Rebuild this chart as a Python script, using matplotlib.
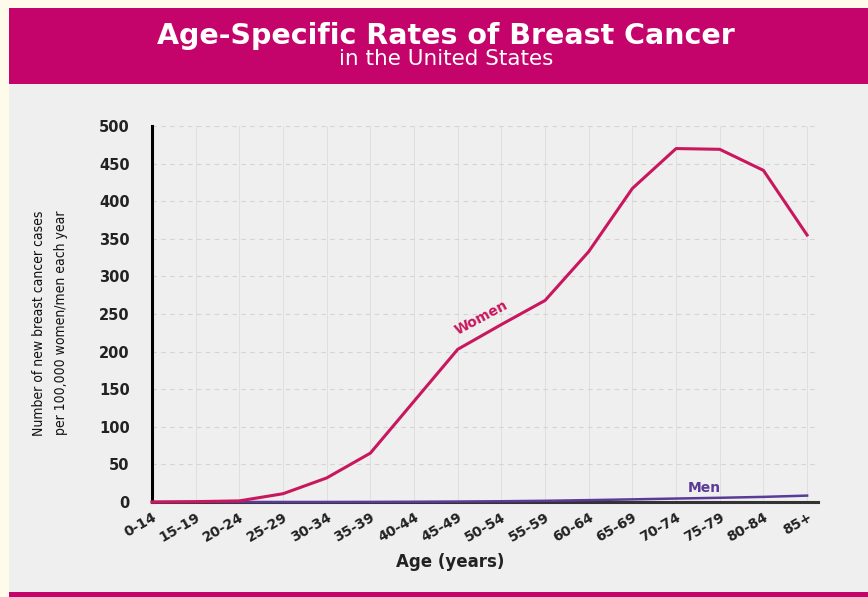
import matplotlib
matplotlib.use('Agg')
import matplotlib.pyplot as plt
from matplotlib.patches import Rectangle
from matplotlib.transforms import ScaledTranslation

# Age groups and incidence per 100,000
age_groups = ['0-14', '15-19', '20-24', '25-29', '30-34', '35-39', '40-44', '45-49',
              '50-54', '55-59', '60-64', '65-69', '70-74', '75-79', '80-84', '85+']
women_rates = [0, 0.5, 1.5, 11, 32, 65, 134, 203, 236, 268, 333, 417, 470, 469, 441, 355]
men_rates = [0, 0, 0, 0, 0, 0.1, 0.3, 0.6, 1.0, 1.6, 2.5, 3.5, 4.6, 5.6, 6.8, 8.5]
y_ticks = [0, 50, 100, 150, 200, 250, 300, 350, 400, 450, 500]

PINK = '#c5046b'
WOMEN = '#c8175d'
MEN = '#5b3b98'

W, H = 868, 597
fig = plt.figure(figsize=(W / 100, H / 100), dpi=100)
fig.patch.set_facecolor('#fffbea')

# header band, grey panel and bottom rule (pixel coordinates from top-left)
def px_rect(x0, y0, x1, y1, color):
    fig.patches.append(Rectangle((x0 / W, 1 - y1 / H), (x1 - x0) / W, (y1 - y0) / H,
                                 transform=fig.transFigure, facecolor=color,
                                 edgecolor='none', zorder=-5))

px_rect(9, 84, W, 593, '#efefef')
px_rect(9, 8, W, 84, PINK)
px_rect(9, 592, W, H, PINK)

fig.text(446 / W, 1 - 36 / H, 'Age-Specific Rates of Breast Cancer', color='white',
         fontsize=20.5, fontweight='bold', ha='center', va='center', family='DejaVu Sans')
fig.text(446 / W, 1 - 59 / H, 'in the United States', color='white',
         fontsize=15.5, ha='center', va='center', family='DejaVu Sans')

ax = fig.add_axes([152 / W, 1 - 502 / H, (818 - 152) / W, (502 - 126) / H])
ax.set_facecolor('none')

x = list(range(len(age_groups)))
ax.plot(x, women_rates, color=WOMEN, lw=2.2, zorder=4, clip_on=False)
ax.plot(x, men_rates, color=MEN, lw=1.8, zorder=3, clip_on=False)

ax.set_xlim(0, 15.25)
ax.set_ylim(0, 500)

ax.set_xticks(x)
ax.set_xticklabels(age_groups, rotation=30, ha='right', va='top', rotation_mode='anchor',
                   fontsize=10, fontweight='bold', color='#222222')
# nudge the slanted labels so they end just right of their tick
shift = ScaledTranslation(8 / 100, 0, fig.dpi_scale_trans)
for lab in ax.get_xticklabels():
    lab.set_transform(lab.get_transform() + shift)

ax.set_yticks(y_ticks)
ax.set_yticklabels([str(v) for v in y_ticks], fontsize=10.5, fontweight='bold', color='#222222')
ax.tick_params(axis='both', length=0)
ax.tick_params(axis='y', pad=16)
ax.tick_params(axis='x', pad=6)

ax.grid(axis='y', color='#d4d4d4', ls=(0, (4, 4)), lw=0.8)
ax.grid(axis='x', color='#dcdcdc', ls='-', lw=0.6)
ax.set_axisbelow(True)

for side in ['top', 'right']:
    ax.spines[side].set_visible(False)
ax.spines['left'].set_color('black')
ax.spines['left'].set_linewidth(2.2)
ax.spines['bottom'].set_color('#333333')
ax.spines['bottom'].set_linewidth(2.2)

ax.text(7.55, 245, 'Women', color=WOMEN, fontsize=10, fontweight='bold',
        rotation=28, ha='center', va='center')
ax.text(12.65, 19, 'Men', color=MEN, fontsize=10, fontweight='bold',
        ha='center', va='center')

ax.set_xlabel('Age (years)', fontsize=12, fontweight='bold', color='#222222')
ax.xaxis.set_label_coords(0.447, -0.135)
ax.set_ylabel('Number of new breast cancer cases\nper 100,000 women/men each year',
              fontsize=10, family='DejaVu Sans', fontstretch='condensed',
              color='#111111', linespacing=1.75)
ax.yaxis.set_label_coords(-0.126, 0.476)

fig.savefig('out.png', dpi=100, facecolor=fig.get_facecolor())
